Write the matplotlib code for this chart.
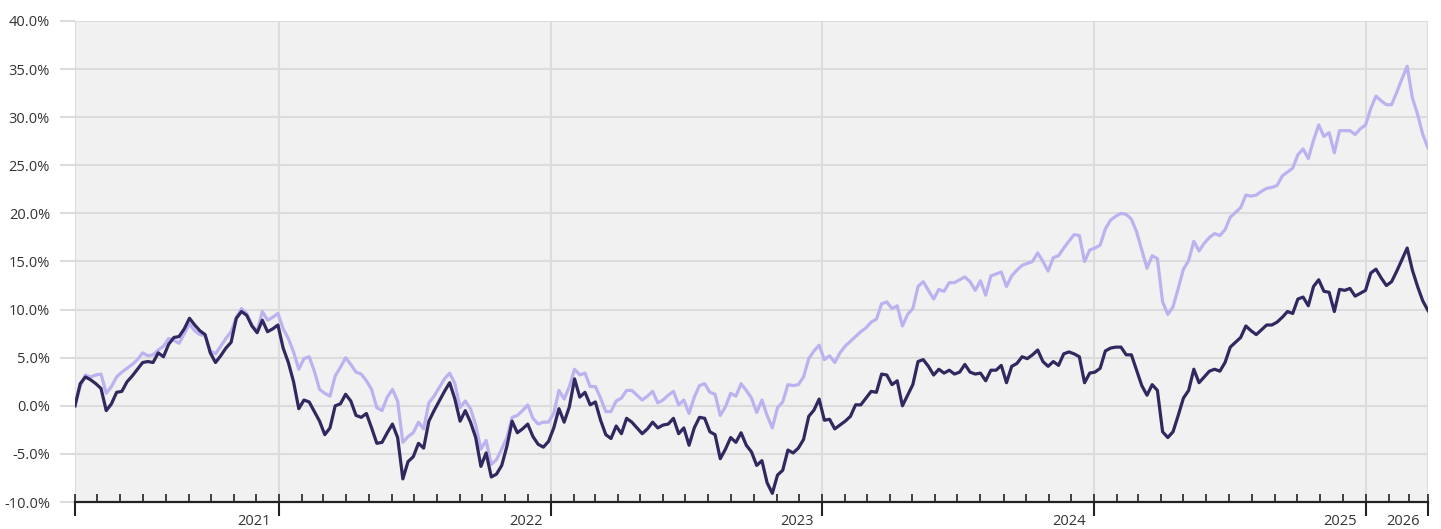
import matplotlib
matplotlib.use("Agg")
import matplotlib.pyplot as plt
import matplotlib.dates as mdates
import matplotlib.ticker as mticker
import numpy as np
import pandas as pd

# weekly cumulative returns (%)
start_date = "2021-04-01"

dark_series = [
    0.0, 2.3, 3.0, 2.7, 2.3, 1.8, -0.5, 0.2, 1.4, 1.5,
    2.5, 3.1, 3.8, 4.5, 4.6, 4.5, 5.5, 5.1, 6.4, 7.1,
    7.2, 8.0, 9.1, 8.4, 7.8, 7.4, 5.5, 4.5, 5.2, 6.0,
    6.6, 9.1, 9.8, 9.4, 8.3, 7.6, 8.9, 7.7, 8.0, 8.4,
    6.0, 4.5, 2.5, -0.3, 0.6, 0.4, -0.6, -1.6, -3.0, -2.3,
    0.0, 0.2, 1.2, 0.5, -1.0, -1.2, -0.8, -2.3, -3.9, -3.8,
    -2.8, -1.9, -3.3, -7.6, -5.8, -5.3, -3.9, -4.4, -1.6, -0.5,
    0.5, 1.5, 2.4, 0.7, -1.6, -0.5, -1.7, -3.3, -6.3, -4.9,
    -7.4, -7.1, -6.2, -4.2, -1.6, -2.8, -2.4, -1.9, -3.2, -4.0,
    -4.3, -3.7, -2.3, -0.3, -1.7, -0.1, 2.8, 0.9, 1.4, 0.1,
    0.4, -1.5, -3.0, -3.4, -2.1, -2.9, -1.3, -1.7, -2.3, -2.9,
    -2.4, -1.7, -2.3, -2.0, -1.9, -1.3, -2.9, -2.3, -4.1, -2.3,
    -1.2, -1.3, -2.7, -3.0, -5.5, -4.5, -3.3, -3.8, -2.8, -4.1,
    -4.8, -6.2, -5.7, -8.0, -9.1, -7.2, -6.7, -4.6, -4.9, -4.4,
    -3.5, -1.1, -0.45, 0.7, -1.5, -1.4, -2.4, -2.0, -1.6, -1.1,
    0.1, 0.1, 0.8, 1.5, 1.4, 3.3, 3.2, 2.2, 2.6, 0.0,
    1.1, 2.2, 4.6, 4.8, 4.1, 3.2, 3.8, 3.4, 3.7, 3.3,
    3.5, 4.3, 3.5, 3.3, 3.4, 2.6, 3.7, 3.7, 4.2, 2.4,
    4.1, 4.4, 5.1, 4.9, 5.3, 5.8, 4.6, 4.1, 4.6, 4.2,
    5.4, 5.6, 5.4, 5.1, 2.4, 3.4, 3.5, 3.9, 5.7, 6.0,
    6.1, 6.1, 5.3, 5.3, 3.7, 2.1, 1.1, 2.2, 1.6, -2.7,
    -3.3, -2.7, -1.0, 0.8, 1.6, 3.8, 2.4, 3.0, 3.6, 3.8,
    3.6, 4.5, 6.1, 6.6, 7.1, 8.3, 7.8, 7.4, 7.9, 8.4,
    8.4, 8.7, 9.2, 9.8, 9.6, 11.1, 11.3, 10.4, 12.4, 13.1,
    11.9, 11.8, 9.8, 12.1, 12.0, 12.2, 11.4, 11.7, 12.0, 13.8,
    14.2, 13.3, 12.5, 12.9, 14.0, 15.2, 16.4, 14.1, 12.4, 10.9,
    9.9,
]

light_series = [
    0.0, 2.0, 3.2, 3.0, 3.2, 3.3, 1.3, 2.0, 3.0, 3.5,
    3.9, 4.3, 4.8, 5.5, 5.2, 5.3, 5.8, 6.2, 7.0, 6.8,
    6.5, 7.5, 8.5, 7.8, 7.4, 7.3, 5.7, 5.4, 6.2, 7.0,
    7.7, 9.2, 10.1, 9.6, 8.4, 7.7, 9.8, 8.9, 9.2, 9.6,
    8.0, 7.0, 5.6, 3.8, 4.9, 5.1, 3.6, 1.7, 1.3, 1.0,
    3.1, 4.0, 5.0, 4.3, 3.5, 3.3, 2.6, 1.7, -0.2, -0.5,
    0.9, 1.7, 0.5, -3.8, -3.2, -2.8, -1.7, -2.4, 0.3, 1.0,
    1.9, 2.8, 3.4, 2.3, -0.2, 0.5, -0.3, -2.0, -4.5, -3.6,
    -6.1, -5.6, -4.5, -3.3, -1.2, -1.0, -0.5, 0.1, -1.3, -1.9,
    -1.7, -1.7, -0.8, 1.6, 0.7, 2.0, 3.8, 3.2, 3.4, 2.0,
    2.0, 0.8, -0.6, -0.6, 0.5, 0.8, 1.6, 1.6, 1.1, 0.6,
    1.0, 1.5, 0.3, 0.6, 1.1, 1.5, 0.1, 0.6, -0.8, 0.9,
    2.1, 2.3, 1.4, 1.2, -1.0, -0.1, 1.3, 1.0, 2.3, 1.6,
    0.8, -0.7, 0.6, -1.0, -2.3, -0.2, 0.4, 2.2, 2.1, 2.2,
    3.0, 4.9, 5.7, 6.3, 4.8, 5.2, 4.5, 5.5, 6.2, 6.7,
    7.2, 7.7, 8.1, 8.7, 9.0, 10.6, 10.8, 10.1, 10.4, 8.3,
    9.5, 10.1, 12.4, 12.9, 12.0, 11.1, 12.1, 11.9, 12.8, 12.8,
    13.1, 13.4, 12.9, 12.0, 13.0, 11.5, 13.5, 13.7, 13.9, 12.4,
    13.5, 14.1, 14.6, 14.8, 15.0, 15.9, 15.0, 14.0, 15.4, 15.6,
    16.4, 17.1, 17.8, 17.7, 15.0, 16.2, 16.4, 16.7, 18.4, 19.3,
    19.7, 20.0, 19.9, 19.4, 18.1, 16.2, 14.3, 15.6, 15.3, 10.8,
    9.5, 10.3, 12.2, 14.2, 15.1, 17.1, 16.1, 16.9, 17.5, 17.9,
    17.7, 18.3, 19.6, 20.1, 20.6, 21.9, 21.8, 21.9, 22.3, 22.6,
    22.7, 22.9, 23.9, 24.3, 24.7, 26.1, 26.7, 25.7, 27.6, 29.2,
    28.0, 28.4, 26.3, 28.6, 28.6, 28.6, 28.2, 28.8, 29.2, 30.9,
    32.2, 31.7, 31.3, 31.3, 32.6, 34.0, 35.3, 32.0, 30.3, 28.2,
    26.8,
]

year_starts = ["2022-01-01", "2023-01-01", "2024-01-01", "2025-01-01", "2026-01-01"]
year_labels = ["2021", "2022", "2023", "2024", "2025", "2026"]
y_ticks = np.arange(-10, 41, 5)

dates = pd.date_range(start_date, periods=len(dark_series), freq="7D")
year_starts = pd.to_datetime(year_starts)

plt.rcParams['font.family'] = ['Open Sans', 'DejaVu Sans']

fig = plt.figure(figsize=(14.41, 5.29), dpi=100)
ax = fig.add_axes([75 / 1441, 1 - 502 / 529, (1428 - 75) / 1441, (502 - 21) / 529])
ax.set_facecolor("#f1f1f1")

ax.plot(dates, light_series, color="#bdb2ef", lw=2.3, zorder=3)
ax.plot(dates, dark_series, color="#2f295f", lw=2.3, zorder=4)

ax.set_xlim(dates[0], dates[-1])
ax.set_ylim(-10, 40)

# y axis
ax.set_yticks(y_ticks)
ax.yaxis.set_major_formatter(mticker.FuncFormatter(lambda v, p: f"{v:.1f}%"))
ax.tick_params(axis='y', length=11, width=1.5, color="#dcdcdc", pad=7,
               labelsize=10.5, labelcolor="#333333")

# x axis: long ticks at the ends and year starts, short monthly ticks
major_locs = [dates[0]] + list(year_starts) + [dates[-1]]
month_locs = list(pd.date_range(dates[0], dates[-1], freq="MS")) + [dates[-1]]
ax.xaxis.set_major_locator(mticker.FixedLocator(mdates.date2num(major_locs)))
ax.xaxis.set_minor_locator(mticker.FixedLocator(mdates.date2num(month_locs)))
ax.xaxis.remove_overlapping_locs = False
ax.set_xticklabels([])
ax.tick_params(axis='x', which='major', direction='out', length=10, width=1.5, color="#222222")
ax.tick_params(axis='x', which='minor', direction='in', length=6, width=1.2, color="#222222")

label_pos = list(year_starts) + [dates[-1]]
for d, lab in zip(label_pos, year_labels):
    ax.annotate(lab, xy=(mdates.date2num(d), 0), xycoords=('data', 'axes fraction'),
                xytext=(-6, -14), textcoords='offset points', ha='right', va='center',
                fontsize=10.5, color="#333333")

ax.grid(axis='y', color="#dcdcdc", lw=1.5)
ax.grid(axis='x', which='major', color="#dcdcdc", lw=1.5)
ax.set_axisbelow(True)

for s in ['top', 'right', 'left']:
    ax.spines[s].set_visible(False)
ax.spines['bottom'].set_color("#222222")
ax.spines['bottom'].set_linewidth(1.6)

fig.savefig("out.png", dpi=100)
